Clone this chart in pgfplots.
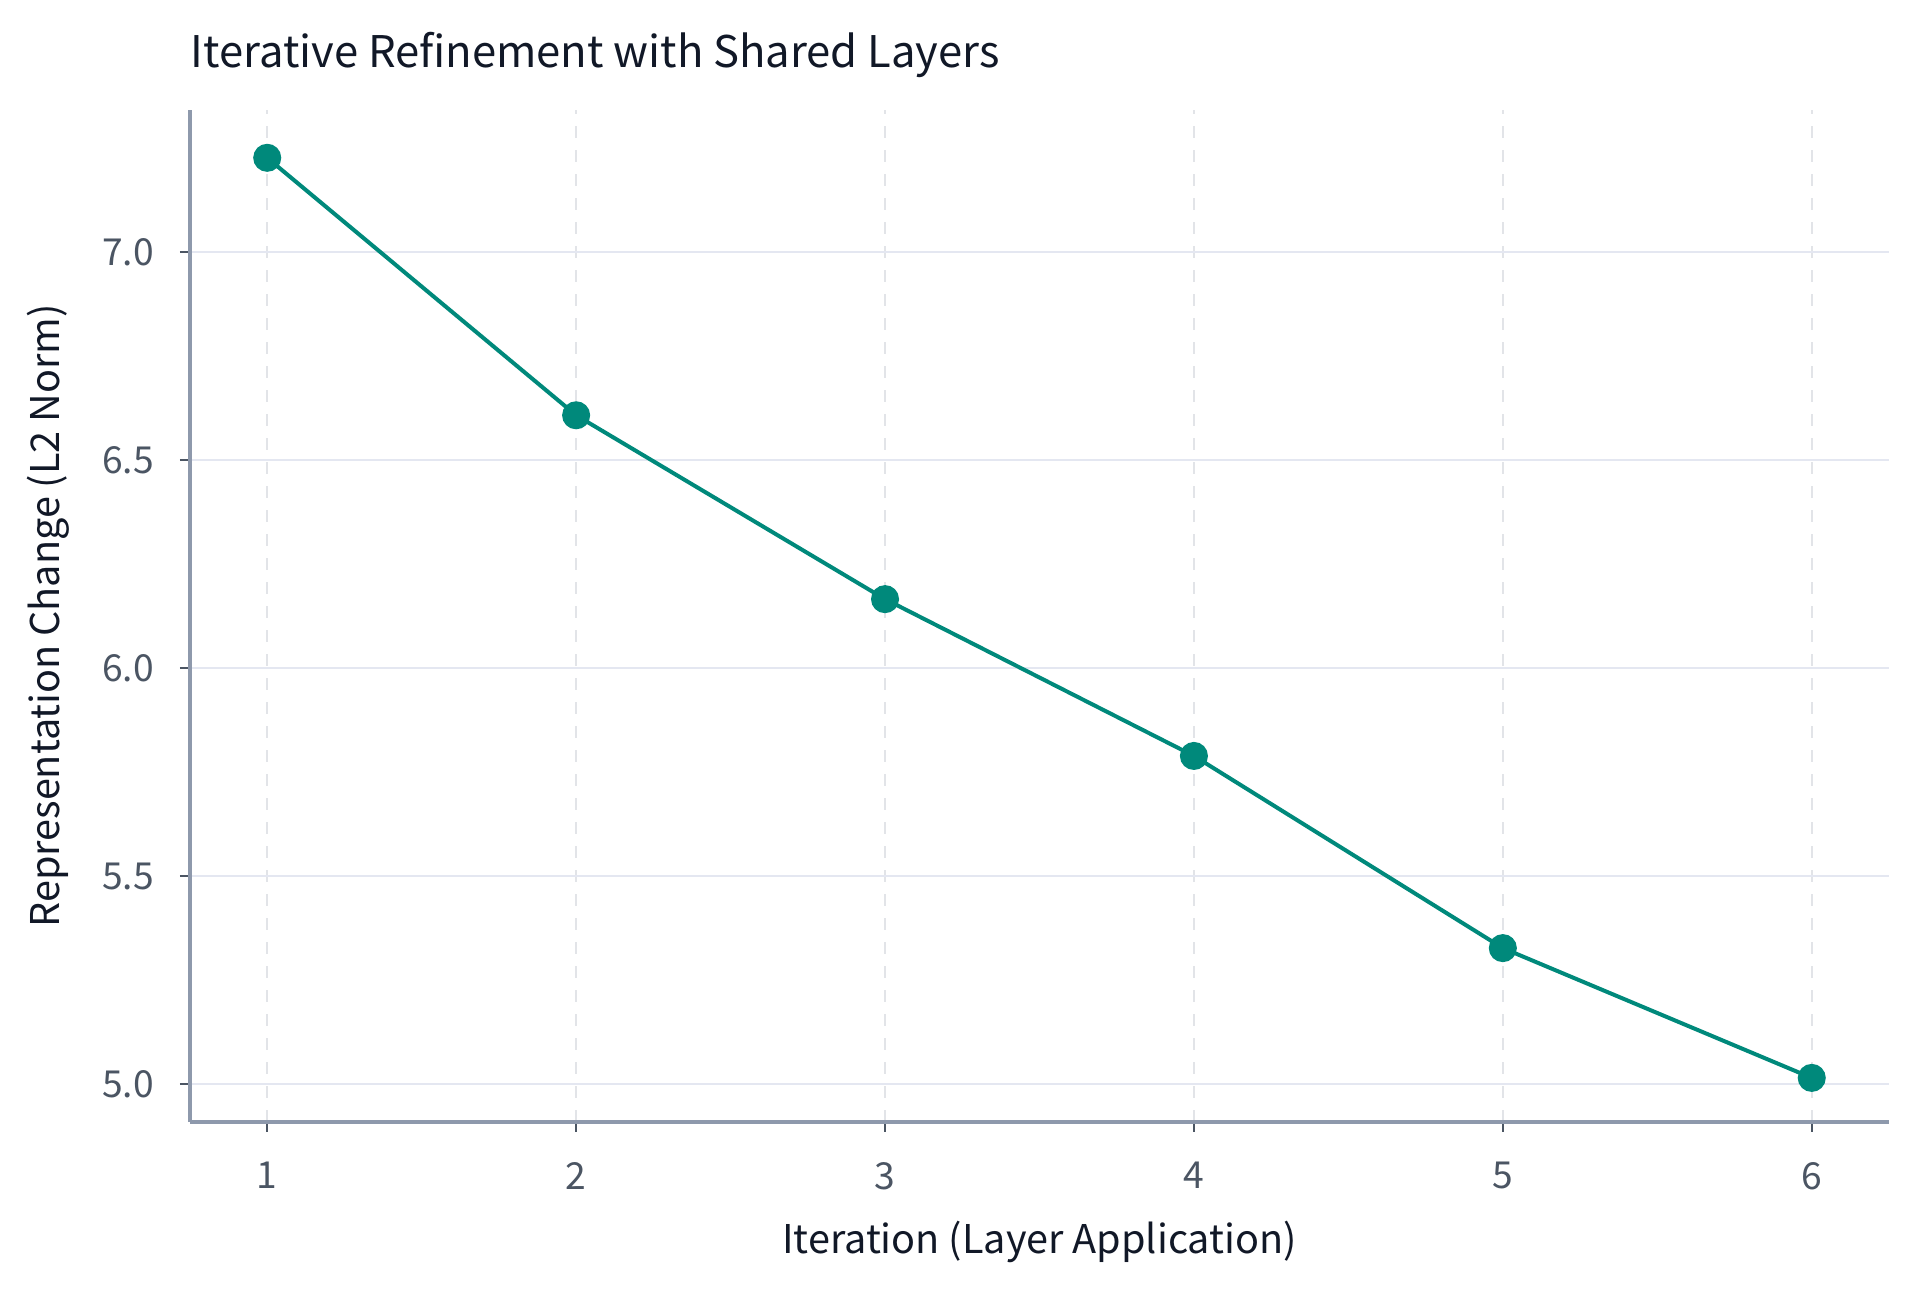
\documentclass[border=0pt]{standalone}
\usepackage{fontspec}
\setmainfont{Noto Sans CJK KR}
\usepackage{pgfplots}
\pgfplotsset{compat=1.18}
\definecolor{lineteal}{HTML}{00897B}
\definecolor{axisgray}{HTML}{8E99AC}
\definecolor{tickdark}{HTML}{4B5563}
\definecolor{hgrid}{HTML}{E4E7F1}
\definecolor{vgrid}{HTML}{E2E4E8}
\definecolor{titlecol}{HTML}{111827}
\begin{document}
\begin{tikzpicture}
\path[use as bounding box] (-47.5pt,-42.5pt) rectangle (432.5pt,280.5pt);
\begin{axis}[
    at={(0,0)}, anchor=south west,
    scale only axis,
    width=424.75pt, height=253pt,
    xmin=0.75, xmax=6.25, ymin=4.909, ymax=7.342,
    xtick={1,2,3,4,5,6},
    ytick={5.0,5.5,6.0,6.5,7.0},
    yticklabel style={/pgf/number format/fixed,
                      /pgf/number format/fixed zerofill,
                      /pgf/number format/precision=1},
    /pgf/number format/assume math mode=true,
    axis lines*=left,
    axis line style={axisgray, line width=0.8pt},
    tick align=outside,
    major tick length=2.5pt,
    tick style={tickdark, line width=0.6pt},
    ticklabel style={font=\fontsize{9.3}{11}\selectfont, text=tickdark},
    xticklabel style={yshift=-4pt},
    yticklabel style={xshift=-3pt},
    xmajorgrids, ymajorgrids,
    x grid style={vgrid, dashed, line width=0.45pt},
    y grid style={hgrid, line width=0.6pt},
    xlabel={Iteration (Layer Application)},
    ylabel={Representation Change (L2 Norm)},
    label style={font=\fontsize{9.9}{11}\selectfont, text=titlecol},
    xlabel style={at={(axis description cs:0.5,0)}, anchor=center, yshift=-30pt},
    ylabel style={at={(axis description cs:0,0.5)}, anchor=center, yshift=35.5pt},
    clip=false,
]
\addplot[lineteal, line width=1pt, mark=*, mark size=3pt,
         mark options={fill=lineteal, draw=lineteal}] coordinates {
    (1, 7.227) (2, 6.608) (3, 6.166) (4, 5.789) (5, 5.327) (6, 5.015)
};
\node[anchor=west, inner sep=0pt, font=\fontsize{10.9}{13}\selectfont, text=titlecol]
    at (rel axis cs:0,1) [yshift=13.8pt] {Iterative Refinement with Shared Layers};
\end{axis}
\end{tikzpicture}
\end{document}
